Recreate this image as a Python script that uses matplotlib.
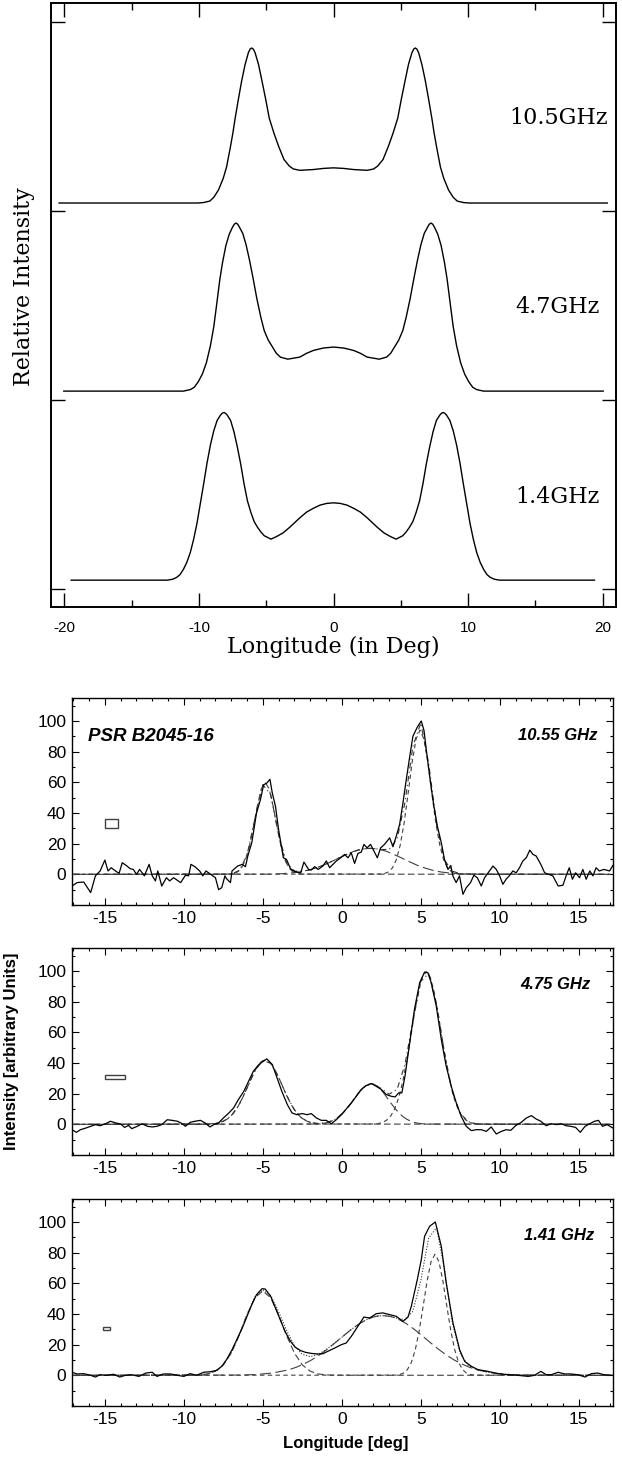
import matplotlib
matplotlib.use('Agg')
import matplotlib.pyplot as plt
from matplotlib.patches import Rectangle
from matplotlib.ticker import MultipleLocator
import numpy as np

plt.rcParams['axes.unicode_minus'] = False
plt.rcParams['font.family'] = ['Liberation Sans', 'DejaVu Sans']

# ---------------- upper figure: model profiles (relative intensity) ----------------
freq_labels_top = ['10.5GHz', '4.7GHz', '1.4GHz']

lon_105 = [-20.4, -10.1, -9.7, -9.2, -8.9, -8.55, -8.2, -7.95, -7.68, -7.48, -7.33, -7.08, -6.83, -6.58,
           -6.33, -6.2, -6.08, -5.96, -5.83, -5.58, -5.33, -5.03, -4.78, -4.43, -4.08, -3.68, -3.28, -2.98, -2.5, -1.5,
           -0.75, 0.0, 0.75, 1.5, 2.5, 2.98, 3.28, 3.68, 4.08, 4.43, 4.78, 5.03, 5.33, 5.58, 5.83, 5.96, 6.08,
           6.2, 6.33, 6.58, 6.83, 7.08, 7.33, 7.48, 7.68, 7.95, 8.2, 8.55, 8.9, 9.2, 9.7, 10.1, 20.35]
rel_105 = [0, 0, 0.002, 0.01, 0.03, 0.069, 0.13, 0.19, 0.29, 0.37, 0.44, 0.545, 0.645, 0.73,
           0.795, 0.814, 0.82, 0.814, 0.795, 0.735, 0.65, 0.545, 0.45, 0.37, 0.30, 0.23, 0.195, 0.18, 0.173, 0.177,
           0.183, 0.186, 0.183, 0.177, 0.173, 0.18, 0.195, 0.23, 0.30, 0.37, 0.45, 0.545, 0.65, 0.735, 0.795, 0.814, 0.82,
           0.814, 0.795, 0.73, 0.645, 0.545, 0.44, 0.37, 0.29, 0.19, 0.13, 0.069, 0.03, 0.01, 0.002, 0, 0]

lon_47 = [-20.05, -11.15, -10.65, -10.35, -10.05, -9.75, -9.45, -9.15, -8.9, -8.7, -8.45, -8.25, -8.0,
          -7.75, -7.5, -7.37, -7.25, -7.12, -7.0, -6.75, -6.5, -6.25, -6.0, -5.7, -5.4, -5.15, -4.85, -4.55, -4.25,
          -3.95, -3.4, -2.5, -2.0, -1.5, -0.75, 0.0, 0.75, 1.5, 2.0, 2.5, 3.4, 3.95, 4.25, 4.55, 4.85,
          5.15, 5.4, 5.7, 6.0, 6.25, 6.5, 6.75, 7.0, 7.12, 7.25, 7.37, 7.5, 7.75, 8.0, 8.25, 8.45, 8.7, 8.9, 9.15,
          9.45, 9.75, 10.05, 10.35, 10.65, 11.15, 20.05]
rel_47 = [0, 0, 0.008, 0.02, 0.05, 0.09, 0.15, 0.24, 0.34, 0.45, 0.59, 0.68, 0.77,
          0.83, 0.868, 0.883, 0.889, 0.883, 0.868, 0.835, 0.775, 0.695, 0.605, 0.49, 0.39, 0.32, 0.27, 0.235, 0.20,
          0.18, 0.169, 0.18, 0.20, 0.215, 0.228, 0.233, 0.228, 0.215, 0.20, 0.18, 0.169, 0.18, 0.20, 0.235, 0.27,
          0.32, 0.39, 0.49, 0.605, 0.695, 0.775, 0.835, 0.868, 0.883, 0.889, 0.883, 0.868, 0.83, 0.77, 0.68, 0.59,
          0.45, 0.34, 0.24, 0.15, 0.09, 0.05, 0.02, 0.008, 0, 0]

lon_14 = [-19.5, -12.35, -11.95, -11.65, -11.4, -11.15, -10.9, -10.65, -10.4, -10.15, -9.9, -9.65, -9.4,
          -9.15, -8.9, -8.65, -8.4, -8.27, -8.15, -8.03, -7.9, -7.65, -7.4, -7.15, -6.9, -6.65, -6.4, -6.15, -5.9,
          -5.65, -5.4, -5.15, -4.65, -4.25, -3.75, -3.25, -2.5, -2.0, -1.5, -1.0, -0.5, 0.0, 0.5, 1.0, 1.5, 2.0,
          2.5, 3.25, 3.75, 4.25, 4.65, 5.15, 5.4, 5.65, 5.9, 6.15, 6.4, 6.65, 6.9, 7.15, 7.4, 7.65, 7.9,
          8.03, 8.15, 8.27, 8.4, 8.65, 8.9, 9.15, 9.4, 9.65, 9.9, 10.15, 10.4, 10.65, 10.9, 11.15, 11.4, 11.65,
          11.95, 12.35, 19.4]
rel_14 = [0, 0, 0.005, 0.015, 0.03, 0.058, 0.095, 0.145, 0.215, 0.30, 0.405, 0.51, 0.62,
          0.715, 0.79, 0.845, 0.873, 0.883, 0.887, 0.883, 0.873, 0.845, 0.785, 0.705, 0.615, 0.51, 0.42, 0.36, 0.31,
          0.28, 0.255, 0.235, 0.217, 0.23, 0.25, 0.28, 0.33, 0.36, 0.38, 0.397, 0.406, 0.409, 0.406, 0.397, 0.38, 0.36,
          0.33, 0.28, 0.25, 0.23, 0.217, 0.235, 0.255, 0.28, 0.31, 0.36, 0.42, 0.51, 0.615, 0.705, 0.785, 0.845, 0.873,
          0.883, 0.887, 0.883, 0.873, 0.845, 0.79, 0.715, 0.62, 0.51, 0.405, 0.30, 0.215, 0.145, 0.095, 0.058, 0.03,
          0.015, 0.005, 0, 0]

# ---------------- lower figure: PSR B2045-16 observed profiles ----------------
panel_labels = ['10.55 GHz', '4.75 GHz', '1.41 GHz']

p1_lon = [-17.08, -16.76, -16.34, -15.9, -15.6, -15.3, -15.0, -14.8, -14.6, -14.3, -14.1, -13.9, -13.6, -13.4,
          -13.2, -13.0, -12.8, -12.5, -12.2, -12.0, -11.8, -11.65, -11.4, -11.1, -10.9, -10.65, -10.2, -9.9,
          -9.7, -9.55, -9.3, -9.0, -8.8, -8.6, -8.3, -8.0, -7.8, -7.6, -7.4, -7.3, -7.05, -6.95, -6.6, -6.3,
          -6.1, -5.95, -5.7, -5.4, -5.15, -4.95, -4.75, -4.55, -4.4, -4.2, -4.0, -3.7, -3.5, -3.25, -3.05,
          -2.85, -2.6, -2.4, -2.1, -1.93, -1.72, -1.5, -1.2, -0.98, -0.77, -0.56, -0.35, -0.07, 0.18, 0.39,
          0.6, 0.81, 1.02, 1.23, 1.4, 1.6, 1.82, 2.04, 2.25, 2.46, 2.7, 3.03, 3.24, 3.45, 3.66, 3.87, 4.08,
          4.3, 4.5, 4.78, 5.03, 5.2, 5.4, 5.62, 5.83, 6.05, 6.3, 6.5, 6.72, 6.9, 7.03, 7.24, 7.45, 7.67,
          7.88, 8.15, 8.36, 8.58, 8.83, 9.04, 9.35, 9.57, 9.78, 9.99, 10.2, 10.4, 10.6, 10.83, 11.04, 11.25,
          11.46, 11.68, 11.9, 12.1, 12.3, 12.6, 12.84, 13.1, 13.36, 13.7, 14.0, 14.2, 14.4, 14.6, 14.8,
          15.05, 15.26, 15.47, 15.7, 15.9, 16.1, 16.3, 16.6, 16.95, 17.16]
p1_int = [-7.6, -5.4, -5.0, -11.9, -1.0, 2.2, 9.3, 2.2, 4.3, 2.0, 0.6, 7.6, 5.4, 3.7,
          3.2, 0.0, 3.2, -1.0, 6.5, -1.0, -4.3, 2.2, -7.6, -2.2, -4.3, -2.2, -5.4, -0.6,
          -1.0, 6.5, 5.0, 2.2, -1.0, 2.2, 0.0, -2.2, -10.0, -8.7, -1.0, -2.8, -5.4, 2.2, 5.4, 6.5,
          5.0, 12.0, 20.6, 40.0, 48.7, 58.4, 59.5, 62.0, 53.0, 44.4, 29.0, 10.8, 9.7, 3.7, 2.2,
          1.5, 1.0, 8.0, 3.2, 2.8, 5.0, 3.2, 5.4, 8.7, 4.3, 6.5, 8.7, 10.8, 13.0, 10.8,
          14.0, 7.1, 13.6, 14.5, 19.5, 17.3, 19.5, 15.0, 10.8, 17.3, 19.5, 23.8, 18.0, 25.0, 32.5, 46.5, 61.7,
          76.8, 90.0, 96.0, 100.0, 94.0, 77.0, 59.5, 44.4, 31.4, 20.6, 9.7, 3.2, 5.8, -1.0, -5.4, -1.0, -13.0,
          -8.7, -5.4, -0.6, -2.2, -7.6, -2.2, 2.2, 5.4, 3.2, -1.0, -6.5, -3.2, -1.0, 2.2, 1.0, 4.3,
          8.7, 10.8, 15.8, 13.0, 12.0, 6.5, 1.0, 0.0, -1.0, -7.6, -7.1, -1.0, 4.3, -3.2, 1.0,
          -2.2, 3.2, -3.2, 2.2, -1.0, 4.3, 2.2, 3.2, 2.2, 5.8]

p2_lon = [-17.08, -16.8, -16.55, -16.2, -15.9, -15.6, -15.3, -14.95, -14.65, -14.3, -14.0, -13.75, -13.5,
          -13.3, -12.95, -12.65, -12.3, -12.0, -11.7, -11.4, -11.05, -10.75, -10.4, -10.1, -9.9, -9.6, -9.3,
          -8.95, -8.65, -8.35, -8.1, -7.8, -7.5, -7.15, -6.85, -6.55, -6.2, -5.9, -5.6, -5.25, -4.95, -4.75,
          -4.4, -4.1, -3.8, -3.45, -3.15, -2.85, -2.5, -2.2, -1.93, -1.6, -1.3, -0.98, -0.66, -0.35, -0.03,
          0.28, 0.6, 0.92, 1.23, 1.55, 1.87, 2.18, 2.5, 2.82, 3.13, 3.38, 3.6, 3.8, 4.0, 4.3, 4.6, 4.93,
          5.24, 5.45, 5.66, 5.98, 6.3, 6.61, 6.93, 7.25, 7.56, 7.88, 8.2, 8.51, 8.83, 9.15, 9.46, 9.78,
          10.1, 10.4, 10.7, 11.0, 11.36, 11.68, 12.0, 12.3, 12.6, 12.94, 13.26, 13.6, 13.9, 14.2, 14.5,
          14.8, 15.1, 15.4, 15.7, 16.0, 16.25, 16.5, 16.8, 17.16]
p2_int = [-3.5, -5.2, -3.5, -2.4, -1.3, -0.2, -0.9, 0.4, 2.0, 0.9, 0.2, -2.0, -0.7,
          -2.8, -1.3, 0.4, -1.3, -1.7, -1.3, -0.2, 3.0, 2.6, 2.0, 0.4, -1.3, 1.3, 2.0,
          2.6, 0.9, -1.7, -0.2, 0.9, 4.1, 7.4, 10.7, 16.1, 21.6, 28.1, 34.6, 39.0, 41.2, 42.7,
          39.0, 30.3, 21.6, 12.9, 7.4, 6.3, 7.0, 6.3, 7.0, 4.1, 2.6, 2.6, 0.4, 3.0, 6.3,
          10.0, 13.9, 18.3, 22.7, 25.3, 26.6, 24.8, 22.7, 19.4, 18.3, 17.9, 20.5, 20.5, 31.4, 53.2, 75.0, 92.4,
          99.3, 98.9, 92.4, 77.1, 55.3, 37.9, 24.8, 13.9, 5.2, -1.3, -4.1, -3.5, -3.5, -4.6, -1.7, -6.3,
          -4.6, -3.5, -3.9, -0.9, 1.3, 4.1, 5.7, 3.5, 2.0, -0.9, 0.4, -0.2, 0.4, -0.9, -1.3,
          -2.0, -5.2, -1.3, 0.4, 2.0, 2.6, -1.3, -0.2, -2.4]

p3_lon = [-17.08, -16.76, -16.34, -15.9, -15.6, -15.3, -14.9, -14.45, -14.06, -13.7, -13.3, -12.85, -12.4,
          -12.0, -11.7, -11.3, -10.85, -10.4, -10.0, -9.6, -9.2, -8.75, -8.3, -7.9, -7.6, -7.3, -6.95, -6.65,
          -6.3, -6.0, -5.7, -5.4, -5.05, -4.85, -4.5, -4.2, -3.9, -3.6, -3.25, -2.95, -2.6, -2.3, -1.93,
          -1.5, -1.2, -0.88, -0.45, -0.03, 0.28, 0.6, 1.02, 1.4, 1.76, 2.18, 2.6, 3.03, 3.45, 3.87, 4.19,
          4.4, 4.78, 5.03, 5.24, 5.56, 5.92, 6.3, 6.61, 7.04, 7.46, 7.78, 8.2, 8.62, 9.25, 9.88, 10.5,
          11.15, 11.8, 12.2, 12.6, 12.94, 13.26, 13.7, 14.1, 14.5, 14.95, 15.4, 15.8, 16.2, 16.6, 17.16]
p3_int = [2.0, 0.9, 1.1, 0.0, -1.1, 0.4, 0.0, 0.7, -1.1, 0.0, 0.4, -0.7, 1.5,
          2.0, -0.7, 0.9, 0.9, 0.0, -0.7, 1.1, 0.0, 2.0, 2.4, 3.3, 5.9, 10.2, 16.7, 23.3,
          30.9, 38.5, 46.1, 52.6, 56.5, 56.3, 51.5, 43.9, 36.3, 28.7, 22.2, 18.3, 16.1, 15.0, 14.3,
          13.9, 14.1, 15.7, 17.8, 20.0, 21.1, 25.4, 32.0, 38.0, 37.4, 40.2, 40.7, 39.6, 38.5, 35.2, 38.0,
          45.0, 62.4, 75.4, 90.7, 97.2, 100.0, 84.1, 60.2, 34.1, 16.7, 9.1, 5.9, 3.7, 2.6, 1.1, 0.4,
          0.0, -0.7, 0.0, 2.6, 0.4, 0.4, 2.0, 0.9, 0.9, 0.4, -1.1, 1.1, 1.5, 0.4, 0.0]

# Gaussian-fit components
p1_c1_lon = [-17, -7.1, -6.85, -6.6, -6.35, -6.1, -5.85, -5.6, -5.35, -5.1, -4.85, -4.6, -4.35, -4.1, -3.85,
             -3.6, -3.35, -3.1, -2.85, -2.6, 17]
p1_c1_int = [0, 0.15, 0.5, 1.6, 4.2, 9.4, 18.4, 30.8, 44.6, 55.7, 60, 55.7, 44.6, 30.8, 18.4,
             9.4, 4.2, 1.6, 0.5, 0.15, 0]
p1_c2_lon = [-17, -4.7, -4.2, -3.7, -3.2, -2.7, -2.2, -1.7, -1.2, -0.7, -0.2, 0.3, 0.8, 1.3, 1.8, 2.3, 2.8,
             3.3, 3.8, 4.3, 4.8, 5.3, 5.8, 6.3, 6.8, 7.3, 7.8, 8.3, 17]
p1_c2_int = [0, 0.1, 0.2, 0.5, 0.9, 1.5, 2.5, 4.0, 5.8, 8.1, 10.6, 13.0, 15.1, 16.5, 17.0, 16.5, 15.1,
             13.0, 10.6, 8.1, 5.8, 4.0, 2.5, 1.5, 0.9, 0.5, 0.2, 0.1, 0]
p1_c3_lon = [-17, 2.45, 2.7, 2.95, 3.2, 3.45, 3.7, 3.95, 4.2, 4.45, 4.7, 4.95, 5.2, 5.45, 5.7, 5.95, 6.2,
             6.45, 6.7, 6.95, 7.2, 7.45, 17]
p1_c3_int = [0, 0.2, 0.5, 1.6, 4.1, 9.4, 19.1, 33.8, 52.9, 72.9, 88.2, 94.0, 88.2, 72.9, 52.9, 33.8, 19.1,
             9.4, 4.1, 1.6, 0.5, 0.2, 0]
p1_fit_lon = [-17, -8, -7.5, -7, -6.5, -6, -5.5, -5, -4.5, -4, -3.5, -3, -2.5, -2, -1.5, -1, -0.5, 0, 0.5,
              1, 1.5, 2, 2.5, 3, 3.5, 4, 4.5, 5, 5.5, 6, 6.5, 7, 7.5, 8, 8.5, 9, 17]
p1_fit_int = [0, 0, 0, 0.3, 2.4, 12.5, 36.4, 58.5, 52.0, 25.8, 7.5, 2.1, 2.0, 3.0, 4.7, 6.7, 9.1, 11.6, 13.9,
              15.8, 16.8, 16.9, 16.2, 16.2, 23.1, 47.0, 83.5, 98.7, 72.3, 32.6, 9.3, 2.0, 0.5, 0.2, 0.1, 0, 0]

p2_c1_lon = [-17, -8.35, -8.1, -7.85, -7.6, -7.35, -7.1, -6.85, -6.6, -6.35, -6.1, -5.85, -5.6, -5.35, -5.1,
             -4.85, -4.6, -4.35, -4.1, -3.85, -3.6, -3.35, -3.1, -2.85, -2.6, -2.35, -2.1, -1.85, -1.6, -1.35, 17]
p2_c1_int = [0, 0.2, 0.4, 0.8, 1.6, 2.8, 4.6, 7.4, 11.1, 15.8, 21.3, 27.2, 32.9, 37.7, 40.9,
             42.0, 40.9, 37.7, 32.9, 27.2, 21.3, 15.8, 11.1, 7.4, 4.6, 2.8, 1.6, 0.8, 0.4, 0.2, 0]
p2_c2_lon = [-17, -1.65, -1.4, -1.15, -0.9, -0.65, -0.4, -0.15, 0.1, 0.35, 0.6, 0.85, 1.1, 1.35, 1.6, 1.85,
             2.1, 2.35, 2.6, 2.85, 3.1, 3.35, 3.6, 3.85, 4.1, 4.35, 4.6, 4.85, 5.1, 5.35, 17]
p2_c2_int = [0, 0.2, 0.35, 0.7, 1.2, 2.1, 3.4, 5.2, 7.6, 10.6, 14.0, 17.6, 21.1, 23.9, 25.8, 26.5,
             25.8, 23.9, 21.1, 17.6, 14.0, 10.6, 7.6, 5.2, 3.4, 2.1, 1.2, 0.7, 0.35, 0.2, 0]
p2_c3_lon = [-17, 2.1, 2.35, 2.6, 2.85, 3.1, 3.35, 3.6, 3.85, 4.1, 4.35, 4.6, 4.85, 5.1, 5.35, 5.6, 5.85,
             6.1, 6.35, 6.6, 6.85, 7.1, 7.35, 7.6, 7.85, 8.1, 8.35, 8.6, 17]
p2_c3_int = [0, 0.24, 0.6, 1.3, 2.8, 5.5, 10.1, 17.3, 27.5, 40.8, 56.2, 72.2, 86.2, 96.0, 99.5, 96.0, 86.2,
             72.2, 56.2, 40.8, 27.5, 17.3, 10.1, 5.5, 2.8, 1.3, 0.6, 0.24, 0]
p2_fit_lon = [-17, -9, -8.5, -8, -7.5, -7, -6.5, -6, -5.5, -5, -4.5, -4, -3.5, -3, -2.5, -2, -1.5, -1, -0.5,
              0, 0.5, 1, 1.5, 2, 2.5, 3, 3.5, 4, 4.5, 5, 5.5, 6, 6.5, 7, 7.5, 8, 8.5, 9, 17]
p2_fit_int = [0, 0, 0.1, 0.6, 2.0, 5.6, 12.9, 23.6, 35.0, 41.6, 39.8, 30.7, 19.0, 9.5, 3.8, 1.3, 0.6, 1.1, 2.8,
              6.6, 12.6, 19.7, 25.2, 26.4, 23.3, 19.6, 22.8, 39.1, 67.4, 93.3, 98.3, 78.2, 46.7, 21.0, 7.1, 1.8,
              0.3, 0, 0]

p3_c1_lon = [-17, -9.5, -9, -8.5, -8, -7.5, -7, -6.5, -6, -5.5, -5, -4.5, -4, -3.5, -3, -2.5, -2, -1.5,
             -1, -0.5, 17]
p3_c1_int = [0, 0.06, 0.3, 0.9, 2.7, 6.8, 14.5, 26.0, 39.4, 50.6, 55.0, 50.6, 39.4, 26.0, 14.5, 6.8, 2.7, 0.9,
             0.3, 0.06, 0]
p3_c2_lon = [-17, -6.4, -5.4, -4.4, -3.4, -2.9, -2.4, -1.9, -1.4, -0.9, -0.4, 0.1, 0.6, 1.1, 1.6, 2.1, 2.6,
             3.1, 3.6, 4.1, 4.6, 5.1, 5.6, 6.1, 6.6, 7.1, 7.6, 8.1, 8.6, 9.6, 10.6, 11.6, 17]
p3_c2_int = [0, 0.18, 0.55, 1.5, 3.5, 5.2, 7.4, 10.1, 13.4, 17.2, 21.4, 25.7, 29.9, 33.6, 36.5, 38.4, 39.0,
             38.4, 36.5, 33.6, 29.9, 25.7, 21.4, 17.2, 13.4, 10.1, 7.4, 5.2, 3.5, 1.5, 0.55, 0.18, 0]
p3_c3_lon = [-17, 3.4, 3.65, 3.9, 4.15, 4.4, 4.65, 4.9, 5.15, 5.4, 5.65, 5.9, 6.15, 6.4, 6.65, 6.9, 7.15,
             7.4, 7.65, 7.9, 8.15, 8.4, 17]
p3_c3_int = [0, 0.15, 0.5, 1.4, 3.7, 8.3, 16.6, 29.1, 45.0, 61.5, 74.2, 79.0, 74.2, 61.5, 45.0, 29.1, 16.6,
             8.3, 3.7, 1.4, 0.5, 0.15, 0]
p3_fit_lon = [-17, -9, -8.5, -8, -7.5, -7, -6.5, -6, -5.5, -5, -4.5, -4, -3.5, -3, -2.5, -2, -1.5, -1, -0.5,
              0, 0.5, 1, 1.5, 2, 2.5, 3, 3.5, 4, 4.5, 5, 5.5, 6, 6.5, 7, 7.5, 8, 8.5, 9, 9.5, 10, 10.5,
              11, 11.5, 12, 12.5, 17]
p3_fit_int = [0, 0.3, 0.9, 2.7, 6.8, 14.6, 26.2, 39.7, 51.1, 55.8, 52.0, 41.5, 29.3, 19.3, 13.7, 12.2, 13.6,
              16.7, 20.7, 24.8, 29.1, 32.9, 36.0, 38.1, 39.0, 38.6, 37.2, 36.3, 41.8, 61.8, 89.6, 96.2, 69.2,
              34.2, 14.0, 6.6, 3.9, 2.5, 1.6, 1.0, 0.6, 0.4, 0.2, 0.1, 0.0, 0]

# resolution boxes: (lon_start, lon_end, int_low, int_high)
p1_box = [-15.0, -14.15, 30.0, 36.0]
p2_box = [-15.0, -13.75, 29.7, 32.0]
p3_box = [-15.1, -14.65, 29.8, 31.3]

# ============================ drawing ============================
W, H = 622, 1457
fig = plt.figure(figsize=(W / 100, H / 100), dpi=100)


def add_ax(l, t, r, b):
    return fig.add_axes([l / W, 1 - b / H, (r - l) / W, (b - t) / H])


def ftxt(x, y, s, **kw):
    return fig.text(x / W, 1 - y / H, s, **kw)


# ---- upper panel ----
ax0 = add_ax(51, 3, 616, 607)
offsets = [2.042, 1.047, 0.047]
for lon, rel, off in zip([lon_105, lon_47, lon_14], [rel_105, rel_47, rel_14], offsets):
    ax0.plot(lon, np.array(rel) + off, color='black', lw=1.0, solid_joinstyle='round')
ax0.set_xlim(-21, 21)
ax0.set_ylim(-0.095, 3.1)
ax0.set_xticks([-20, -10, 0, 10, 20])
ax0.set_xticks([-15, -5, 5, 15], minor=True)
ax0.set_yticks([0, 1, 2, 3])
ax0.set_yticklabels([])
ax0.tick_params(which='both', direction='in', top=True, right=True, width=1.0)
ax0.tick_params(which='major', length=10)
ax0.tick_params(which='minor', length=5)
ax0.tick_params(axis='x', labelsize=11, pad=10)
for sp in ax0.spines.values():
    sp.set_linewidth(1.4)

serif = ['DejaVu Serif']
ftxt(608, 124, freq_labels_top[0], ha='right', va='baseline', fontsize=16, family=serif)
ftxt(600, 313, freq_labels_top[1], ha='right', va='baseline', fontsize=16, family=serif)
ftxt(600, 503, freq_labels_top[2], ha='right', va='baseline', fontsize=16, family=serif)
ftxt(333, 653, 'Longitude (in Deg)', ha='center', va='baseline', fontsize=16, family=serif)
ftxt(30.5, 287, 'Relative Intensity', ha='center', va='baseline', rotation=90,
     rotation_mode='anchor', fontsize=16, family=serif)

# ---- lower panels ----
panels = [
    (698, 905, p1_lon, p1_int, [(p1_c1_lon, p1_c1_int), (p1_c2_lon, p1_c2_int), (p1_c3_lon, p1_c3_int)],
     (p1_fit_lon, p1_fit_int), p1_box, (-1, (5, 3, 1, 3))),
    (948, 1155, p2_lon, p2_int, [(p2_c1_lon, p2_c1_int), (p2_c2_lon, p2_c2_int), (p2_c3_lon, p2_c3_int)],
     (p2_fit_lon, p2_fit_int), p2_box, (-1, (5, 3, 1, 3))),
    (1199, 1406, p3_lon, p3_int, [(p3_c1_lon, p3_c1_int), (p3_c2_lon, p3_c2_int), (p3_c3_lon, p3_c3_int)],
     (p3_fit_lon, p3_fit_int), p3_box, (0, (1, 1.5))),
]
comp_dashes = [(0, (6, 3)), (0, (10, 4)), (0, (4, 3))]
axes = []
for top, bot, lon, inten, comps, fit, box, fitstyle in panels:
    ax = add_ax(71.7, top, 612.7, bot)
    for (cl, ci), ls in zip(comps, comp_dashes):
        ax.plot(cl, ci, color='0.25', lw=0.8, linestyle=ls)
    ax.plot(fit[0], fit[1], color='0.2', lw=0.8, linestyle=fitstyle)
    ax.plot(lon, inten, color='black', lw=0.9)
    ax.add_patch(Rectangle((box[0], box[2]), box[1] - box[0], box[3] - box[2],
                           fill=False, edgecolor='0.25', lw=1.0))
    ax.set_xlim(-17.1, 17.15)
    ax.set_ylim(-20, 115)
    ax.set_xticks([-15, -10, -5, 0, 5, 10, 15])
    ax.set_yticks([0, 20, 40, 60, 80, 100])
    ax.xaxis.set_minor_locator(MultipleLocator(1))
    ax.yaxis.set_minor_locator(MultipleLocator(10))
    ax.tick_params(which='both', direction='in', top=True, right=True, width=0.8)
    ax.tick_params(which='major', length=5)
    ax.tick_params(which='minor', length=2.5)
    ax.tick_params(axis='both', labelsize=12.5)
    ax.tick_params(axis='x', pad=4)
    ax.tick_params(axis='y', pad=4)
    for sp in ax.spines.values():
        sp.set_linewidth(1.0)
    axes.append(ax)

ftxt(88, 741, 'PSR B2045-16', ha='left', va='baseline', fontsize=13.5, fontweight='bold', fontstyle='italic')
ftxt(597, 740, panel_labels[0], ha='right', va='baseline', fontsize=12, fontweight='bold', fontstyle='italic')
ftxt(591, 989, panel_labels[1], ha='right', va='baseline', fontsize=12, fontweight='bold', fontstyle='italic')
ftxt(594, 1240, panel_labels[2], ha='right', va='baseline', fontsize=12, fontweight='bold', fontstyle='italic')
ftxt(346, 1448, 'Longitude [deg]', ha='center', va='baseline', fontsize=12, fontweight='bold')
ftxt(16, 1051, 'Intensity [arbitrary Units]', ha='center', va='baseline', rotation=90,
     rotation_mode='anchor', fontsize=12, fontweight='bold')

fig.savefig('out.png', dpi=100)
